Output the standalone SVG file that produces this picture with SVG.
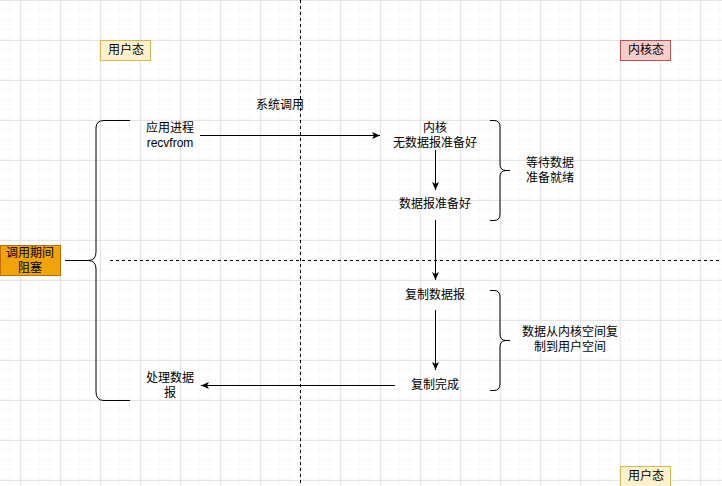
<svg xmlns="http://www.w3.org/2000/svg" width="722" height="486" viewBox="0 0 722 486">
<defs>
<pattern id="minor" width="10" height="10" patternUnits="userSpaceOnUse">
<path d="M10,0 V10 M0,10 H10" fill="none" stroke="#f3f3f3" stroke-width="1"/>
</pattern>
<pattern id="major" x="20" y="0" width="40" height="40" patternUnits="userSpaceOnUse">
<path d="M0.5,0 V40 M0,0.5 H40" fill="none" stroke="#e4e4e4" stroke-width="1"/>
</pattern>
<marker id="arr" viewBox="0 0 8 8" refX="8" refY="4" markerWidth="8" markerHeight="8" markerUnits="userSpaceOnUse" orient="auto">
<path d="M0,0.5 L8,4 L0,7.5 L2,4 z" fill="#000"/>
</marker>
<style>
text{font-family:"Liberation Sans","Noto Sans CJK SC",sans-serif;font-size:12px;fill:#000;text-anchor:middle}
.edge{fill:none;stroke:#000;stroke-width:1}
.brace{fill:none;stroke:#000;stroke-width:1}
.dash{fill:none;stroke:#000;stroke-width:1;stroke-dasharray:3 3}
</style>
</defs>
<rect width="722" height="486" fill="#fff"/>
<rect width="722" height="486" fill="url(#minor)"/>
<rect width="722" height="486" fill="url(#major)"/>

<g id="dividers">
<path class="dash" d="M300.5,0 V486"/>
<path class="dash" d="M110,260.5 H722"/>
</g>

<g id="user-top">
<rect x="100.5" y="40.5" width="50" height="20" fill="#fff2cc" stroke="#d6b656"/>
<text x="126" y="54">用户态</text>
</g>
<g id="kernel-mode">
<rect x="620.5" y="40.5" width="50" height="20" fill="#f8cecc" stroke="#b85450"/>
<text x="646" y="54">内核态</text>
</g>
<g id="user-bottom">
<rect x="620.5" y="466.5" width="50" height="20" fill="#fff2cc" stroke="#d6b656"/>
<text x="646" y="480">用户态</text>
</g>
<g id="blocked">
<rect x="0.5" y="245.5" width="60" height="30" fill="#f0a30a" stroke="#bd7000"/>
<text x="30" y="257">调用期间</text>
<text x="30" y="272">阻塞</text>
</g>

<g id="syscall-label"><text x="280" y="109">系统调用</text></g>
<g id="app-process">
<text x="170" y="132">应用进程</text>
<text x="170" y="147">recvfrom</text>
</g>
<g id="kernel-nodata">
<text x="435" y="132">内核</text>
<text x="435" y="147">无数据报准备好</text>
</g>
<g id="data-ready"><text x="435" y="208">数据报准备好</text></g>
<g id="copy-data"><text x="435" y="299">复制数据报</text></g>
<g id="copy-done"><text x="435" y="389">复制完成</text></g>
<g id="process-data">
<text x="170" y="382">处理数据</text>
<text x="170" y="397">报</text>
</g>
<g id="wait-label">
<text x="550" y="167">等待数据</text>
<text x="550" y="182">准备就绪</text>
</g>
<g id="copy-label">
<text x="570" y="336">数据从内核空间复</text>
<text x="570" y="351">制到用户空间</text>
</g>

<g id="brace-left">
<path class="brace" d="M130,120.5 H104 Q96,120.5 96,128 V252 Q96,260.5 88,260.5 Q96,260.5 96,269 V392 Q96,400.5 104,400.5 H130 M88,260.5 H65"/>
</g>
<g id="brace-wait">
<path class="brace" d="M490,120.5 H494 Q500,120.5 500,127 V164 Q500,170.5 506,170.5 H510 M506,170.5 Q500,170.5 500,177 V214 Q500,220.5 494,220.5 H490"/>
</g>
<g id="brace-copy">
<path class="brace" d="M490,290.5 H494 Q500,290.5 500,297 V334 Q500,340.5 506,340.5 H510 M506,340.5 Q500,340.5 500,347 V384 Q500,390.5 494,390.5 H490"/>
</g>

<g id="connectors">
<path class="edge" d="M200,135.5 H380" marker-end="url(#arr)"/>
<path class="edge" d="M435.5,150 V190" marker-end="url(#arr)"/>
<path class="edge" d="M435.5,220 V280" marker-end="url(#arr)"/>
<path class="edge" d="M435.5,310 V370" marker-end="url(#arr)"/>
<path class="edge" d="M395,385.5 H201" marker-end="url(#arr)"/>
</g>
</svg>
